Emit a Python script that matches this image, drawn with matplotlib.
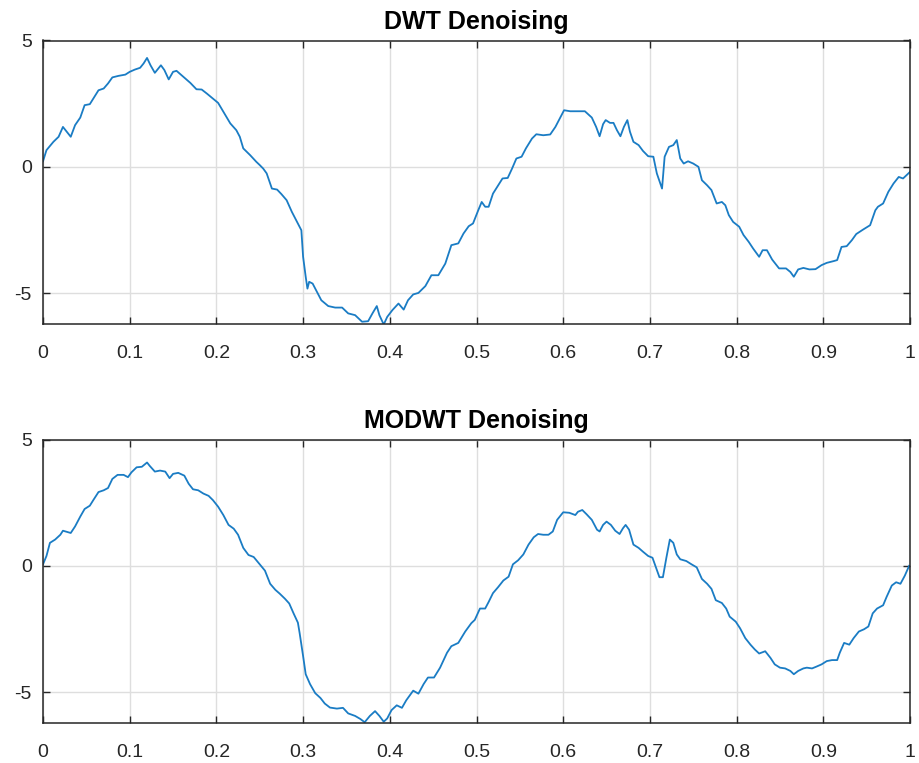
import matplotlib
matplotlib.use("Agg")
import matplotlib.pyplot as plt

# ---- data ----
dwt_x = [0.000, 0.004, 0.012, 0.018, 0.023, 0.032, 0.037, 0.043, 0.048, 0.054, 0.058, 0.064, 0.070,
         0.075, 0.080, 0.087, 0.095, 0.100, 0.106, 0.112, 0.116, 0.120, 0.124, 0.129, 0.136, 0.140,
         0.145, 0.150, 0.154, 0.162, 0.170, 0.177, 0.183, 0.189, 0.196, 0.202, 0.208, 0.216, 0.223,
         0.227, 0.231, 0.239, 0.246, 0.250, 0.254, 0.258, 0.264, 0.270, 0.275, 0.281, 0.287, 0.293,
         0.298, 0.300, 0.303, 0.305, 0.307, 0.311, 0.316, 0.321, 0.329, 0.337, 0.345, 0.352, 0.360,
         0.368, 0.375, 0.380, 0.385, 0.388, 0.393, 0.397, 0.403, 0.410, 0.416, 0.421, 0.427, 0.433,
         0.441, 0.448, 0.456, 0.464, 0.471, 0.479, 0.485, 0.491, 0.496, 0.502, 0.506, 0.510, 0.514,
         0.519, 0.525, 0.530, 0.536, 0.541, 0.546, 0.552, 0.557, 0.564, 0.569, 0.577, 0.585, 0.591,
         0.596, 0.601, 0.608, 0.617, 0.625, 0.633, 0.638, 0.642, 0.646, 0.649, 0.654, 0.658, 0.662,
         0.666, 0.670, 0.674, 0.677, 0.681, 0.687, 0.692, 0.698, 0.704, 0.708, 0.714, 0.717, 0.722,
         0.727, 0.731, 0.735, 0.739, 0.744, 0.750, 0.756, 0.760, 0.766, 0.771, 0.777, 0.783, 0.787,
         0.791, 0.796, 0.803, 0.808, 0.814, 0.819, 0.826, 0.830, 0.835, 0.841, 0.849, 0.857, 0.862,
         0.866, 0.871, 0.877, 0.884, 0.891, 0.898, 0.904, 0.912, 0.916, 0.921, 0.927, 0.933, 0.938,
         0.946, 0.954, 0.960, 0.963, 0.969, 0.975, 0.981, 0.987, 0.992, 0.996, 1.000]
dwt_y = [0.22, 0.66, 0.99, 1.19, 1.58, 1.19, 1.65, 1.95, 2.44, 2.48, 2.70, 3.03, 3.10,
         3.30, 3.54, 3.60, 3.65, 3.76, 3.85, 3.92, 4.09, 4.31, 4.02, 3.72, 4.02, 3.83,
         3.46, 3.76, 3.80, 3.56, 3.32, 3.07, 3.06, 2.90, 2.70, 2.53, 2.18, 1.72, 1.45,
         1.19, 0.73, 0.46, 0.20, 0.07, -0.07, -0.26, -0.86, -0.90, -1.08, -1.32, -1.78, -2.18,
         -2.51, -3.56, -4.35, -4.82, -4.55, -4.62, -4.95, -5.28, -5.51, -5.57, -5.57, -5.80, -5.87,
         -6.13, -6.11, -5.80, -5.51, -5.87, -6.24, -5.94, -5.67, -5.41, -5.65, -5.28, -5.05, -4.99,
         -4.72, -4.29, -4.29, -3.83, -3.10, -3.03, -2.64, -2.35, -2.24, -1.72, -1.39, -1.58, -1.58,
         -1.06, -0.73, -0.46, -0.44, -0.07, 0.33, 0.40, 0.73, 1.12, 1.29, 1.25, 1.28, 1.58,
         1.91, 2.24, 2.20, 2.20, 2.20, 1.95, 1.58, 1.21, 1.69, 1.85, 1.74, 1.74, 1.45,
         1.21, 1.58, 1.85, 1.39, 0.99, 0.86, 0.63, 0.42, 0.40, -0.26, -0.86, 0.40, 0.79,
         0.86, 1.06, 0.33, 0.13, 0.22, 0.13, 0.00, -0.53, -0.73, -0.92, -1.45, -1.39, -1.52,
         -1.91, -2.18, -2.37, -2.70, -2.97, -3.23, -3.56, -3.30, -3.30, -3.67, -4.02, -4.02, -4.16,
         -4.35, -4.06, -4.00, -4.06, -4.05, -3.89, -3.80, -3.73, -3.69, -3.17, -3.14, -2.90, -2.66,
         -2.48, -2.31, -1.72, -1.58, -1.45, -0.99, -0.66, -0.40, -0.46, -0.33, -0.20]

modwt_x = [0.000, 0.004, 0.008, 0.014, 0.020, 0.023, 0.028, 0.032, 0.037, 0.043, 0.048, 0.054, 0.058,
           0.064, 0.070, 0.075, 0.080, 0.086, 0.093, 0.098, 0.102, 0.108, 0.114, 0.120, 0.123, 0.129,
           0.135, 0.141, 0.146, 0.150, 0.156, 0.163, 0.168, 0.173, 0.179, 0.185, 0.191, 0.196, 0.202,
           0.208, 0.214, 0.220, 0.225, 0.231, 0.237, 0.243, 0.250, 0.256, 0.262, 0.268, 0.273, 0.279,
           0.284, 0.289, 0.294, 0.296, 0.300, 0.303, 0.308, 0.314, 0.320, 0.325, 0.331, 0.339, 0.346,
           0.352, 0.360, 0.366, 0.371, 0.377, 0.383, 0.388, 0.393, 0.397, 0.402, 0.408, 0.414, 0.419,
           0.427, 0.433, 0.439, 0.444, 0.451, 0.458, 0.466, 0.471, 0.479, 0.487, 0.494, 0.498, 0.504,
           0.510, 0.514, 0.519, 0.525, 0.531, 0.537, 0.542, 0.548, 0.554, 0.560, 0.566, 0.571, 0.577,
           0.583, 0.588, 0.593, 0.600, 0.607, 0.614, 0.617, 0.622, 0.627, 0.633, 0.639, 0.642, 0.646,
           0.650, 0.655, 0.660, 0.665, 0.669, 0.672, 0.676, 0.681, 0.687, 0.692, 0.698, 0.703, 0.707,
           0.711, 0.715, 0.719, 0.723, 0.727, 0.731, 0.735, 0.742, 0.748, 0.754, 0.760, 0.766, 0.771,
           0.776, 0.783, 0.788, 0.792, 0.799, 0.804, 0.810, 0.816, 0.821, 0.826, 0.833, 0.839, 0.844,
           0.850, 0.856, 0.862, 0.866, 0.871, 0.877, 0.881, 0.887, 0.892, 0.898, 0.904, 0.910, 0.916,
           0.919, 0.924, 0.930, 0.935, 0.941, 0.947, 0.952, 0.957, 0.962, 0.969, 0.973, 0.979, 0.984,
           0.989, 0.994, 0.999]
modwt_y = [0.06, 0.39, 0.91, 1.04, 1.23, 1.39, 1.34, 1.30, 1.56, 1.95, 2.25, 2.38, 2.60,
           2.92, 2.99, 3.08, 3.44, 3.60, 3.60, 3.51, 3.70, 3.90, 3.92, 4.09, 3.96, 3.73,
           3.77, 3.73, 3.47, 3.64, 3.68, 3.57, 3.25, 3.03, 2.99, 2.86, 2.77, 2.60, 2.34,
           2.01, 1.62, 1.47, 1.23, 0.71, 0.43, 0.35, 0.06, -0.19, -0.71, -0.95, -1.10, -1.30,
           -1.49, -1.88, -2.25, -2.66, -3.57, -4.29, -4.68, -5.04, -5.23, -5.45, -5.61, -5.65, -5.62,
           -5.84, -5.94, -6.06, -6.19, -5.94, -5.75, -5.94, -6.17, -6.04, -5.71, -5.52, -5.62, -5.32,
           -4.94, -5.06, -4.68, -4.42, -4.42, -4.03, -3.44, -3.18, -3.05, -2.60, -2.27, -2.14, -1.69,
           -1.69, -1.43, -1.08, -0.84, -0.58, -0.43, 0.06, 0.22, 0.45, 0.84, 1.13, 1.26, 1.23,
           1.23, 1.36, 1.82, 2.12, 2.10, 2.01, 2.14, 2.21, 2.04, 1.82, 1.43, 1.36, 1.62,
           1.75, 1.62, 1.39, 1.26, 1.49, 1.62, 1.43, 0.84, 0.71, 0.56, 0.39, 0.32, -0.06,
           -0.45, -0.45, 0.32, 1.04, 0.91, 0.45, 0.26, 0.19, 0.06, -0.06, -0.52, -0.71, -0.91,
           -1.36, -1.47, -1.69, -2.01, -2.21, -2.47, -2.86, -3.12, -3.31, -3.47, -3.38, -3.64, -3.90,
           -4.03, -4.06, -4.16, -4.29, -4.16, -4.06, -4.03, -4.06, -3.99, -3.90, -3.77, -3.73, -3.73,
           -3.44, -3.05, -3.12, -2.86, -2.60, -2.51, -2.40, -1.88, -1.69, -1.56, -1.23, -0.78, -0.65,
           -0.71, -0.39, 0.00]

titles = ["DWT Denoising", "MODWT Denoising"]
xticks = [0, 0.1, 0.2, 0.3, 0.4, 0.5, 0.6, 0.7, 0.8, 0.9, 1]
xticklabels = ["0", "0.1", "0.2", "0.3", "0.4", "0.5", "0.6", "0.7", "0.8", "0.9", "1"]
yticks = [-5, 0, 5]
yticklabels = ["-5", "0", "5"]

# ---- style ----
plt.rcParams['font.family'] = ['Liberation Sans', 'DejaVu Sans']
plt.rcParams['axes.unicode_minus'] = False

W, H = 919, 763
fig = plt.figure(figsize=(W / 100, H / 100), dpi=100)

boxes = [(43, 40.5, 910, 324), (43, 439.5, 910, 723)]
series = [(dwt_x, dwt_y), (modwt_x, modwt_y)]
line_color = '#1a7cc4'
axis_color = '#262626'

for (l, t, r, b), (xs, ys), title in zip(boxes, series, titles):
    ax = fig.add_axes([l / W, 1 - b / H, (r - l) / W, (b - t) / H])
    ax.plot(xs, ys, color=line_color, lw=1.3)
    ax.set_xlim(0, 1)
    ax.set_ylim(-6.22, 5)
    ax.set_xticks(xticks)
    ax.set_xticklabels(xticklabels)
    ax.set_yticks(yticks)
    ax.set_yticklabels(yticklabels)
    ax.grid(True, color='#dedede', lw=1.0)
    ax.set_axisbelow(True)
    for s in ax.spines.values():
        s.set_color(axis_color)
        s.set_linewidth(1.1)
    ax.tick_params(direction='in', length=5, width=1.0, color=axis_color,
                   top=True, right=True, labelsize=14, labelcolor=axis_color)
    ax.tick_params(axis='x', pad=15)
    ax.tick_params(axis='y', pad=8)
    ax.set_title(title, fontsize=18, fontweight='bold', color='black', pad=8)

fig.savefig('out.png', dpi=100)
